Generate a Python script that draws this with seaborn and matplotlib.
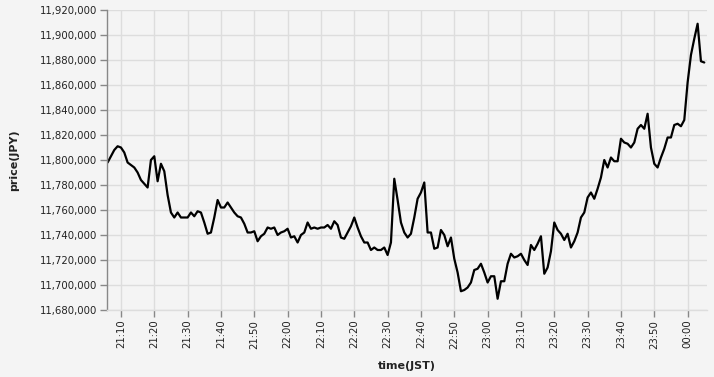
import matplotlib
matplotlib.use("Agg")
import matplotlib.pyplot as plt
import matplotlib.dates as mdates
from matplotlib.ticker import FuncFormatter, MultipleLocator
import seaborn as sns
import pandas as pd

start_time = "2024-01-01 21:06"
prices = [
    11798, 11803, 11808, 11811, 11810, 11806, 11798, 11796, 11794, 11790,
    11784, 11781, 11778, 11800, 11803, 11783, 11797, 11791, 11772, 11758,
    11754, 11758, 11754, 11754, 11754, 11758, 11755, 11759, 11758, 11750,
    11741, 11742, 11754, 11768, 11762, 11762, 11766, 11762, 11758, 11755,
    11754, 11749, 11742, 11742, 11743, 11735, 11739, 11741, 11746, 11745,
    11746, 11740, 11742, 11743, 11745, 11738, 11739, 11734, 11740, 11742,
    11750, 11745, 11746, 11745, 11746, 11746, 11748, 11745, 11751, 11748,
    11738, 11737, 11742, 11747, 11754, 11746, 11739, 11734, 11734, 11728,
    11730, 11728, 11728, 11730, 11724, 11734, 11785, 11768, 11750, 11742,
    11738, 11741, 11754, 11769, 11774, 11782, 11742, 11742, 11729, 11730,
    11744, 11740, 11731, 11738, 11721, 11710, 11695, 11696, 11698, 11702,
    11712, 11713, 11717, 11710, 11702, 11707, 11707, 11689, 11703, 11703,
    11717, 11725, 11722, 11723, 11725, 11720, 11716, 11732, 11728, 11733,
    11739, 11709, 11714, 11727, 11750, 11744, 11741, 11736, 11741, 11730,
    11735, 11742, 11754, 11758, 11770, 11774, 11769, 11777, 11786, 11800,
    11794, 11802, 11799, 11799, 11817, 11814, 11813, 11810, 11814, 11825,
    11828, 11825, 11837, 11810, 11797, 11794, 11802, 11809, 11818, 11818,
    11828, 11829, 11827, 11832, 11862, 11884, 11897, 11909, 11879, 11878,
]

times = pd.date_range(start_time, periods=len(prices), freq="min")
df = pd.DataFrame({"time(JST)": times, "price(JPY)": [p * 1000 for p in prices]})

sns.set_theme(style="white")
plt.rcParams["font.family"] = ["DejaVu Sans"]

bg = "#f4f4f4"
fig = plt.figure(figsize=(7.14, 3.77), dpi=100, facecolor=bg)
ax = fig.add_axes([107 / 714, 67 / 377, 600 / 714, 300 / 377])
ax.set_facecolor(bg)

sns.lineplot(data=df, x="time(JST)", y="price(JPY)", ax=ax, color="black", linewidth=1.6)

ax.set_ylim(11680000, 11920000)
ax.set_xlim(pd.Timestamp("2024-01-01 21:05:49"), pd.Timestamp("2024-01-02 00:05:49"))
ax.yaxis.set_major_locator(MultipleLocator(20000))
ax.yaxis.set_major_formatter(FuncFormatter(lambda v, p: f"{int(round(v)):,}"))
ax.xaxis.set_major_locator(mdates.MinuteLocator(byminute=range(0, 60, 10)))
ax.xaxis.set_major_formatter(mdates.DateFormatter("%H:%M"))

ax.grid(True, color="#dddddd", linewidth=1)
ax.set_axisbelow(True)
for s in ["top", "right"]:
    ax.spines[s].set_visible(False)
ax.spines["left"].set_color("#888888")
ax.spines["left"].set_linewidth(1)
ax.spines["bottom"].set_color("#dddddd")
ax.spines["bottom"].set_linewidth(1)

ax.tick_params(axis="both", which="major", length=5, width=1, color="#888888",
               labelsize=7.3, labelcolor="#222222", pad=2, left=True, bottom=True)
plt.setp(ax.get_xticklabels(), rotation=90, ha="center", va="top")

ax.set_xlabel("time(JST)", fontsize=8, fontweight="bold", color="#222222")
ax.set_ylabel("price(JPY)", fontsize=8, fontweight="bold", color="#222222")
ax.xaxis.set_label_coords(0.5, -0.187)
ax.xaxis.label.set_va("center")
ax.yaxis.set_label_coords(-0.155, 0.5)
ax.yaxis.label.set_va("center")

fig.savefig("out.png", dpi=100, facecolor=bg)
